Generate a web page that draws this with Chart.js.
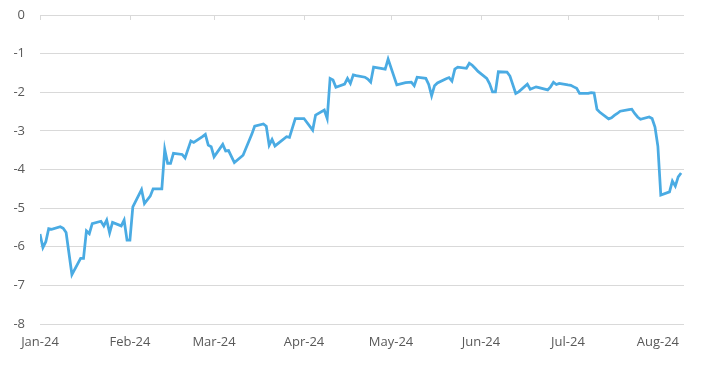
<!DOCTYPE html>
<html>
<head>
<meta charset="utf-8">
<script src="https://cdn.jsdelivr.net/npm/chart.js@4"></script>
<style>
  html, body { margin: 0; padding: 0; background: #ffffff; }
  #wrap { width: 716px; height: 372px; position: relative; }
</style>
</head>
<body>
<div id="wrap"><canvas id="c"></canvas></div>
<script>
// ---- data ----
const dates = [
  "2024-01-01","2024-01-02","2024-01-03","2024-01-04","2024-01-05","2024-01-08","2024-01-09","2024-01-10",
  "2024-01-12","2024-01-15","2024-01-16","2024-01-17","2024-01-18","2024-01-19","2024-01-22","2024-01-23",
  "2024-01-24","2024-01-25","2024-01-26","2024-01-29","2024-01-30","2024-01-31","2024-02-01","2024-02-02",
  "2024-02-05","2024-02-06","2024-02-08","2024-02-09","2024-02-12","2024-02-13","2024-02-14","2024-02-15",
  "2024-02-16","2024-02-19","2024-02-20","2024-02-22","2024-02-23","2024-02-26","2024-02-27","2024-02-28",
  "2024-02-29","2024-03-01","2024-03-04","2024-03-05","2024-03-06","2024-03-08","2024-03-11","2024-03-13",
  "2024-03-14","2024-03-15","2024-03-18","2024-03-19","2024-03-20","2024-03-21","2024-03-22","2024-03-26",
  "2024-03-27","2024-03-29","2024-04-01","2024-04-04","2024-04-05","2024-04-08","2024-04-09","2024-04-10",
  "2024-04-11","2024-04-12","2024-04-15","2024-04-16","2024-04-17","2024-04-18","2024-04-19","2024-04-22",
  "2024-04-23","2024-04-24","2024-04-25","2024-04-26","2024-04-29","2024-04-30","2024-05-03","2024-05-06",
  "2024-05-08","2024-05-09","2024-05-10","2024-05-13","2024-05-14","2024-05-15","2024-05-16","2024-05-17",
  "2024-05-20","2024-05-21","2024-05-22","2024-05-23","2024-05-24","2024-05-27","2024-05-28","2024-05-29",
  "2024-05-30","2024-05-31","2024-06-03","2024-06-04","2024-06-05","2024-06-06","2024-06-07","2024-06-10",
  "2024-06-11","2024-06-13","2024-06-14","2024-06-17","2024-06-18","2024-06-20","2024-06-21","2024-06-24",
  "2024-06-25","2024-06-26","2024-06-27","2024-06-28","2024-07-01","2024-07-02","2024-07-03","2024-07-04",
  "2024-07-05","2024-07-08","2024-07-09","2024-07-10","2024-07-11","2024-07-12","2024-07-15","2024-07-16",
  "2024-07-17","2024-07-18","2024-07-19","2024-07-22","2024-07-23","2024-07-24","2024-07-25","2024-07-26",
  "2024-07-29","2024-07-30","2024-07-31","2024-08-01","2024-08-02","2024-08-05","2024-08-06","2024-08-07",
  "2024-08-08","2024-08-09"
];
const values = [
  -5.67,-6.02,-5.87,-5.53,-5.55,-5.48,-5.52,-5.63,
  -6.72,-6.30,-6.30,-5.59,-5.66,-5.40,-5.34,-5.46,
  -5.31,-5.64,-5.37,-5.46,-5.31,-5.83,-5.83,-4.97,
  -4.52,-4.88,-4.69,-4.50,-4.50,-3.48,-3.84,-3.84,
  -3.58,-3.61,-3.70,-3.26,-3.30,-3.15,-3.09,-3.37,
  -3.41,-3.67,-3.35,-3.52,-3.51,-3.82,-3.63,-3.27,
  -3.09,-2.88,-2.82,-2.88,-3.37,-3.22,-3.39,-3.15,
  -3.17,-2.68,-2.68,-2.98,-2.59,-2.46,-2.68,-1.64,
  -1.68,-1.87,-1.79,-1.64,-1.77,-1.55,-1.57,-1.61,
  -1.66,-1.74,-1.35,-1.36,-1.40,-1.14,-1.81,-1.75,
  -1.74,-1.83,-1.61,-1.64,-1.80,-2.09,-1.83,-1.76,
  -1.65,-1.62,-1.71,-1.40,-1.35,-1.38,-1.25,-1.30,
  -1.38,-1.46,-1.64,-1.78,-1.99,-1.99,-1.47,-1.48,
  -1.58,-2.03,-1.99,-1.79,-1.92,-1.86,-1.88,-1.94,
  -1.86,-1.74,-1.80,-1.77,-1.81,-1.82,-1.86,-1.90,
  -2.03,-2.03,-2.01,-2.02,-2.44,-2.52,-2.69,-2.66,
  -2.60,-2.55,-2.49,-2.45,-2.44,-2.55,-2.64,-2.70,
  -2.64,-2.68,-2.90,-3.40,-4.66,-4.58,-4.30,-4.43,
  -4.19,-4.09
];
const monthTickDates = ["2024-01-01","2024-02-01","2024-03-01","2024-04-01","2024-05-01","2024-06-01","2024-07-01","2024-08-01"];
const monthTickLabels = ["Jan-24","Feb-24","Mar-24","Apr-24","May-24","Jun-24","Jul-24","Aug-24"];
const axisStartDate = "2024-01-01";
const axisEndDate = "2024-08-10";
const yTickValues = [0,-1,-2,-3,-4,-5,-6,-7,-8];

// ---- helpers ----
function dayIndex(s) {
  const [y, m, d] = s.split("-").map(Number);
  const [y0, m0, d0] = axisStartDate.split("-").map(Number);
  return Math.round((Date.UTC(y, m - 1, d) - Date.UTC(y0, m0 - 1, d0)) / 86400000);
}
const points = dates.map((d, i) => ({ x: dayIndex(d), y: values[i] }));
const monthTickValues = monthTickDates.map(dayIndex);

const gridColor = "#d9d9d9";
const labelColor = "#595959";
const fontFamily = "'Open Sans', 'Liberation Sans', sans-serif";

const topTicks = {
  id: "topTicks",
  afterDatasetsDraw(chart) {
    const { ctx, chartArea, scales } = chart;
    ctx.save();
    ctx.strokeStyle = gridColor;
    ctx.lineWidth = 1;
    monthTickValues.forEach(v => {
      const x = Math.round(scales.x.getPixelForValue(v)) + 0.5;
      ctx.beginPath();
      ctx.moveTo(x, chartArea.top);
      ctx.lineTo(x, chartArea.top + 5);
      ctx.stroke();
    });
    ctx.restore();
  }
};

new Chart(document.getElementById("c"), {
  type: "line",
  data: {
    datasets: [{
      data: points,
      borderColor: "#4aabe3",
      borderWidth: 2.75,
      pointRadius: 0,
      pointHoverRadius: 0,
      tension: 0,
      fill: false
    }]
  },
  options: {
    responsive: true,
    maintainAspectRatio: false,
    animation: false,
    layout: { padding: { top: 15, right: 32, bottom: 0, left: 0 } },
    plugins: { legend: { display: false }, tooltip: { enabled: false } },
    scales: {
      x: {
        type: "linear",
        min: dayIndex(axisStartDate),
        max: dayIndex(axisEndDate),
        afterBuildTicks(scale) {
          scale.ticks = monthTickValues.map(v => ({ value: v }));
        },
        afterFit(scale) { scale.height = 48; },
        grid: { display: false, drawTicks: false },
        border: { display: false },
        ticks: {
          autoSkip: false,
          maxRotation: 0,
          padding: 10,
          color: labelColor,
          font: { family: fontFamily, size: 13 },
          callback(value) {
            const i = monthTickValues.indexOf(value);
            return i >= 0 ? monthTickLabels[i] : "";
          }
        }
      },
      y: {
        min: -8,
        max: 0,
        afterBuildTicks(scale) {
          scale.ticks = yTickValues.map(v => ({ value: v }));
        },
        afterFit(scale) {
          scale.width = 40;
          scale.paddingTop = 8;
          scale.paddingBottom = 8;
        },
        grid: { color: gridColor, lineWidth: 1, drawTicks: false },
        border: { display: false },
        ticks: {
          padding: 15,
          color: labelColor,
          font: { family: fontFamily, size: 13 },
          callback(value) { return String(value); }
        }
      }
    }
  },
  plugins: [topTicks]
});
</script>
</body>
</html>
